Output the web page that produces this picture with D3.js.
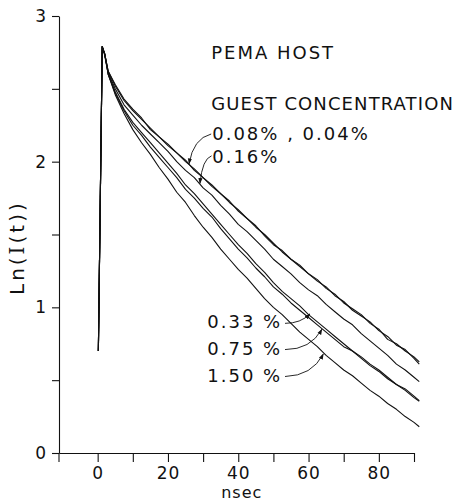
<!DOCTYPE html>
<html>
<head>
<meta charset="utf-8">
<script src="https://cdn.jsdelivr.net/npm/d3@7"></script>
<style>
body { margin: 0; background: #fff; }
svg text { font-family: "DejaVu Sans", sans-serif; fill: #111; }
</style>
</head>
<body>
<div id="chart-area"></div>
<script>
// time axis (nsec) shared by every decay curve
const times = [0.2, 1.3, 2, 3, 5, 7.5, 10, 12.5, 15, 17.5, 20, 22.5, 25, 27.5, 30, 32.5, 35, 37.5, 40, 42.5,
	45, 47.5, 50, 52.5, 55, 57.5, 60, 62.5, 65, 67.5, 70, 72.5, 75, 77.5, 80, 82.5, 85, 87.5, 90, 91.5];

// Ln(I(t)) for each guest concentration
const conc004 = [0.70, 2.79, 2.74, 2.62, 2.53, 2.43, 2.36, 2.30, 2.22, 2.17, 2.11, 2.06, 2.01, 1.94, 1.89, 1.83, 1.78, 1.72, 1.67, 1.61,
	1.55, 1.50, 1.44, 1.38, 1.33, 1.29, 1.23, 1.18, 1.14, 1.08, 1.04, 0.98, 0.94, 0.90, 0.84, 0.80, 0.74, 0.71, 0.65, 0.61];
const conc008 = [0.70, 2.79, 2.74, 2.62, 2.52, 2.42, 2.35, 2.29, 2.23, 2.17, 2.12, 2.06, 2.00, 1.95, 1.89, 1.84, 1.78, 1.73, 1.66, 1.61,
	1.56, 1.49, 1.43, 1.39, 1.33, 1.28, 1.23, 1.19, 1.13, 1.09, 1.03, 0.99, 0.95, 0.89, 0.85, 0.78, 0.75, 0.70, 0.66, 0.625];
const conc016 = [0.70, 2.79, 2.74, 2.61, 2.50, 2.39, 2.32, 2.25, 2.19, 2.13, 2.07, 2.00, 1.94, 1.89, 1.82, 1.77, 1.70, 1.64, 1.57, 1.52,
	1.46, 1.40, 1.33, 1.28, 1.23, 1.17, 1.12, 1.08, 1.02, 0.97, 0.92, 0.88, 0.82, 0.77, 0.72, 0.67, 0.61, 0.57, 0.52, 0.49];
const conc033 = [0.70, 2.79, 2.74, 2.60, 2.48, 2.36, 2.27, 2.20, 2.13, 2.06, 1.99, 1.92, 1.84, 1.78, 1.71, 1.64, 1.57, 1.50, 1.43, 1.37,
	1.30, 1.24, 1.17, 1.11, 1.06, 1.01, 0.95, 0.90, 0.85, 0.80, 0.75, 0.70, 0.66, 0.61, 0.57, 0.52, 0.47, 0.44, 0.39, 0.36];
const conc075 = [0.70, 2.79, 2.74, 2.60, 2.47, 2.35, 2.25, 2.18, 2.10, 2.03, 1.96, 1.89, 1.81, 1.75, 1.68, 1.62, 1.54, 1.47, 1.40, 1.34,
	1.27, 1.21, 1.14, 1.09, 1.03, 0.98, 0.93, 0.88, 0.83, 0.78, 0.73, 0.70, 0.65, 0.60, 0.56, 0.51, 0.47, 0.43, 0.38, 0.355];
const conc150 = [0.70, 2.79, 2.73, 2.60, 2.46, 2.33, 2.22, 2.13, 2.05, 1.96, 1.88, 1.79, 1.72, 1.63, 1.55, 1.48, 1.40, 1.33, 1.26, 1.20,
	1.13, 1.06, 1.00, 0.95, 0.89, 0.83, 0.78, 0.73, 0.67, 0.62, 0.57, 0.53, 0.48, 0.43, 0.39, 0.34, 0.30, 0.25, 0.21, 0.18];

const series = [conc004, conc008, conc016, conc033, conc075, conc150];

const xTicks = [0, 10, 20, 30, 40, 50, 60, 70, 80, 90];
const xLabels = [0, 20, 40, 60, 80];
const yTicks = [0, 0.5, 1, 1.5, 2, 2.5, 3];
const yLabels = [0, 1, 2, 3];

const svg = d3.select("#chart-area").append("svg")
	.attr("width", 461)
	.attr("height", 503);

const x = d3.scaleLinear().domain([-11, 90]).range([59, 414]);
const y = d3.scaleLinear().domain([0, 3]).range([453, 16]);

svg.append("defs").append("marker")
	.attr("id", "arrow")
	.attr("viewBox", "0 0 10 10")
	.attr("refX", 9)
	.attr("refY", 5)
	.attr("markerWidth", 6)
	.attr("markerHeight", 6)
	.attr("markerUnits", "userSpaceOnUse")
	.attr("orient", "auto")
	.append("path")
	.attr("d", "M0,1.5L10,5L0,8.5z")
	.attr("fill", "#111");

// axes
const xAxis = svg.append("g")
	.attr("transform", `translate(0,${y(0)})`)
	.call(d3.axisBottom(x).tickValues(xTicks).tickSize(9).tickSizeOuter(0).tickPadding(5)
		.tickFormat(d => xLabels.includes(d) ? d : ""));

const yAxis = svg.append("g")
	.attr("transform", `translate(${x(-11)},0)`)
	.call(d3.axisLeft(y).tickValues(yTicks).tickSize(7).tickSizeOuter(0).tickPadding(5)
		.tickFormat(d => yLabels.includes(d) ? d : ""));

[xAxis, yAxis].forEach(a => {
	a.selectAll("path, line").attr("stroke", "#111").attr("stroke-width", 1.1);
	a.selectAll("text").style("font-size", "17px").style("letter-spacing", "1px").attr("fill", "#111");
});

// y axis runs a little past the x axis
svg.append("line")
	.attr("x1", x(-11)).attr("x2", x(-11))
	.attr("y1", y(0)).attr("y2", y(0) + 9)
	.attr("stroke", "#111").attr("stroke-width", 1.1);

svg.append("text")
	.attr("x", x(41))
	.attr("y", 498)
	.attr("text-anchor", "middle")
	.style("font-size", "16px")
	.style("letter-spacing", "1px")
	.text("nsec");

const yTitle = svg.append("text")
	.attr("transform", `translate(24,${y(1.41)}) rotate(-90)`)
	.attr("text-anchor", "middle")
	.style("font-size", "20px")
	.style("letter-spacing", "3px");
yTitle.append("tspan").text("Ln(");
yTitle.append("tspan").style("font-family", "'DejaVu Serif', serif").text("I");
yTitle.append("tspan").text("(t))");

// decay curves
const line = d3.line()
	.x((d, i) => x(times[i]))
	.y(d => y(d));

svg.append("g").selectAll("path")
	.data(series)
	.enter()
	.append("path")
	.attr("d", line)
	.attr("fill", "none")
	.attr("stroke", "#111")
	.attr("stroke-width", 1.1)
	.attr("stroke-linejoin", "round");

// annotations
const notes = [
	{ text: "PEMA HOST", t: 32.3, v: 2.705, anchor: "start", ls: 2 },
	{ text: "GUEST CONCENTRATION", t: 32.3, v: 2.355, anchor: "start", ls: 1.1 },
	{ text: "0.08% , 0.04%", t: 32.6, v: 2.152, anchor: "start", ls: 2 },
	{ text: "0.16%", t: 32.6, v: 1.994, anchor: "start", ls: 2 },
	{ text: "0.33 %", t: 52.5, v: 0.858, anchor: "end", ls: 2 },
	{ text: "0.75 %", t: 52.5, v: 0.673, anchor: "end", ls: 2 },
	{ text: "1.50 %", t: 52.5, v: 0.487, anchor: "end", ls: 2 }
];

svg.append("g").selectAll("text")
	.data(notes)
	.enter()
	.append("text")
	.attr("x", d => x(d.t))
	.attr("y", d => y(d.v))
	.attr("text-anchor", d => d.anchor)
	.style("font-size", "18px")
	.style("letter-spacing", d => `${d.ls}px`)
	.text(d => d.text);

const leaders = [
	{ from: [32.3, 2.19], ctrl: [27.2, 2.16], to: [26.0, 1.985] },
	{ from: [32.4, 2.04], ctrl: [29.8, 2.02], to: [29.1, 1.85] },
	{ from: [53.3, 0.89], ctrl: [57.8, 0.89], to: [60.4, 0.955] },
	{ from: [53.3, 0.71], ctrl: [60.6, 0.71], to: [63.8, 0.85] },
	{ from: [53.3, 0.525], ctrl: [61.0, 0.53], to: [64.2, 0.68] }
];

svg.append("g").selectAll("path")
	.data(leaders)
	.enter()
	.append("path")
	.attr("d", d => `M${x(d.from[0])},${y(d.from[1])}Q${x(d.ctrl[0])},${y(d.ctrl[1])} ${x(d.to[0])},${y(d.to[1])}`)
	.attr("fill", "none")
	.attr("stroke", "#111")
	.attr("stroke-width", 0.9)
	.attr("marker-end", "url(#arrow)");
</script>
</body>
</html>
